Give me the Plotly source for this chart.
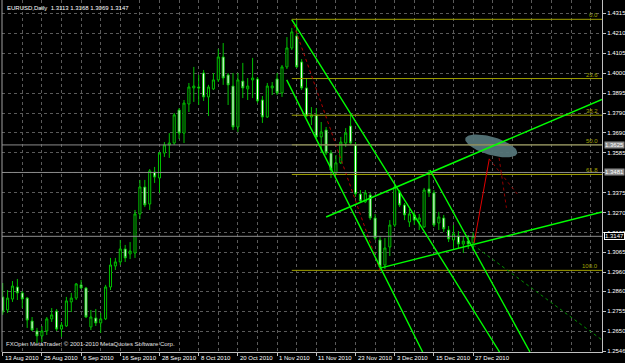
import numpy as np
import plotly.graph_objects as go

# ---------------- data (bar index 0 = 13 Aug 2010, daily bars) ----------------
bars = list(range(97))
opens = [1.2830,1.2762,1.2819,1.2882,1.2851,1.2824,1.2704,1.2652,1.2626,1.2652,
         1.2715,1.2756,1.2662,1.2678,1.2804,1.2824,1.2893,1.2877,1.2673,1.2720,
         1.2694,1.2715,1.2882,1.2992,1.3013,1.3081,1.3055,1.3060,1.3264,1.3405,
         1.3316,1.3483,1.3452,1.3583,1.3625,1.3635,1.3808,1.3687,1.3839,1.3923,
         1.3928,1.4001,1.3876,1.3918,1.3965,1.4085,1.3991,1.3933,1.3719,1.3959,
         1.3918,1.3965,1.3970,1.3860,1.3771,1.3923,1.3970,1.3897,1.4033,1.4132,
         1.4195,1.4059,1.3923,1.3771,1.3782,1.3667,1.3703,1.3583,1.3478,1.3531,
         1.3635,1.3724,1.3625,1.3368,1.3327,1.3363,1.3243,1.3128,1.2997,1.3091,
         1.3206,1.3379,1.3311,1.3222,1.3259,1.3222,1.3196,1.3395,1.3374,1.3217,
         1.3243,1.3180,1.3128,1.3149,1.3107,1.3122,1.3113]
highs = [1.2903,1.2866,1.2913,1.2924,1.2861,1.2830,1.2725,1.2668,1.2678,1.2725,
         1.2772,1.2767,1.2699,1.2830,1.2851,1.2903,1.2919,1.2882,1.2762,1.2767,
         1.2746,1.2893,1.3034,1.3034,1.3128,1.3102,1.3117,1.3285,1.3442,1.3442,
         1.3499,1.3510,1.3588,1.3640,1.3687,1.3792,1.3818,1.3860,1.3949,1.4033,
         1.3991,1.4017,1.3939,1.4001,1.4127,1.4158,1.4001,1.4001,1.4001,1.4054,
         1.3975,1.4080,1.3980,1.3881,1.3949,1.3954,1.4001,1.4043,1.4189,1.4237,
         1.4278,1.4074,1.3975,1.3823,1.3818,1.3745,1.3719,1.3598,1.3572,1.3667,
         1.3713,1.3782,1.3640,1.3389,1.3389,1.3374,1.3264,1.3149,1.3138,1.3232,
         1.3416,1.3389,1.3321,1.3290,1.3275,1.3264,1.3400,1.3494,1.3389,1.3275,
         1.3259,1.3201,1.3206,1.3175,1.3149,1.3154,1.3168]
lows = [1.2736,1.2746,1.2804,1.2814,1.2772,1.2668,1.2652,1.2589,1.2594,1.2631,
        1.2699,1.2652,1.2621,1.2673,1.2751,1.2814,1.2872,1.2720,1.2657,1.2678,
        1.2642,1.2709,1.2866,1.2971,1.2997,1.3013,1.3028,1.3034,1.3238,1.3300,
        1.3285,1.3426,1.3374,1.3562,1.3557,1.3625,1.3656,1.3635,1.3797,1.3850,
        1.3834,1.3855,1.3776,1.3912,1.3954,1.3939,1.3834,1.3703,1.3693,1.3870,
        1.3860,1.3870,1.3844,1.3740,1.3766,1.3886,1.3886,1.3876,1.4022,1.4121,
        1.4027,1.3912,1.3771,1.3729,1.3661,1.3583,1.3572,1.3452,1.3468,1.3525,
        1.3614,1.3625,1.3353,1.3321,1.3321,1.3232,1.3128,1.2971,1.2976,1.3044,
        1.3196,1.3300,1.3232,1.3196,1.3206,1.3180,1.3191,1.3353,1.3196,1.3180,
        1.3170,1.3117,1.3086,1.3086,1.3060,1.3081,1.3069]
closes = [1.2751,1.2824,1.2887,1.2851,1.2819,1.2709,1.2657,1.2626,1.2652,1.2715,
          1.2736,1.2662,1.2683,1.2809,1.2824,1.2898,1.2877,1.2725,1.2725,1.2694,
          1.2715,1.2882,1.2997,1.3013,1.3081,1.3034,1.3070,1.3264,1.3405,1.3311,
          1.3489,1.3457,1.3583,1.3625,1.3635,1.3782,1.3687,1.3844,1.3928,1.3933,
          1.3923,1.3876,1.3928,1.3965,1.4085,1.3975,1.3939,1.3719,1.3965,1.3923,
          1.3933,1.3975,1.3855,1.3771,1.3933,1.3933,1.3897,1.4033,1.4132,1.4216,
          1.4033,1.3923,1.3776,1.3782,1.3667,1.3693,1.3583,1.3494,1.3531,1.3640,
          1.3687,1.3635,1.3368,1.3332,1.3374,1.3243,1.3138,1.2987,1.3086,1.3206,
          1.3405,1.3311,1.3259,1.3264,1.3232,1.3243,1.3389,1.3374,1.3206,1.3248,
          1.3186,1.3133,1.3160,1.3107,1.3122,1.3107,1.3147]

date_pos = [0, 8, 16, 24, 32, 40, 48, 56, 64, 72, 80, 88, 96]
date_labels = ["13 Aug 2010", "25 Aug 2010", "6 Sep 2010", "16 Sep 2010", "28 Sep 2010",
               "8 Oct 2010", "20 Oct 2010", "1 Nov 2010", "11 Nov 2010", "23 Nov 2010",
               "3 Dec 2010", "15 Dec 2010", "27 Dec 2010"]
price_ticks = [1.4315, 1.4210, 1.4105, 1.4000, 1.3895, 1.3790, 1.3690, 1.3585, 1.3480,
               1.3375, 1.3270, 1.3165, 1.3065, 1.2960, 1.2860, 1.2755, 1.2650, 1.2546]
price_tick_text = ["1.4315", "1.4210", "1.4105", "1.4000", "1.3895", "1.3790", "1.3690",
                   "1.3585", "", "1.3375", "1.3270", "1.3165", "1.3065", "1.2960",
                   "1.2860", "1.2755", "1.2650", "1.2546"]

# horizontal price lines and their boxed labels
hlines = [1.3625, 1.3481]
bid_price = 1.3147

# Fibonacci retracement
fib_start_bar, fib_end_bar = 59, 77
fib_high, fib_low = 1.4282, 1.2969
fib_levels = [0.0, 23.6, 38.2, 50.0, 61.8, 100.0]

# hand-drawn trend lines: (bar, price) endpoints
down_lines = [((57.96, 1.3965), (85.7, 1.2542)),
              ((59.0, 1.4280), (101.4, 1.2542)),
              ((87.2, 1.3494), (107.6, 1.2542))]
up_lines = [((66.0, 1.3248), (122.3, 1.3863)),
            ((77.0, 1.2981), (122.3, 1.3274))]
proj_green = ((96.0, 1.3102), (122.3, 1.2605))
proj_red = ((96.2, 1.3112), (99.3, 1.3552))
red_dotted = [((99.3, 1.3552), (105.0, 1.3369)),
              ((101.3, 1.3557), (102.8, 1.3296))]
ellipse_center = (99.7, 1.3620)

# ---------------- geometry / style ----------------
W, H = 625, 363
ML, MR, MT, MB = 2, 23, 0, 11
XR = [-0.14, 122.3]
YR = [1.2542, 1.4383]
px_x = (XR[1] - XR[0]) / (W - ML - MR)
px_y = (YR[1] - YR[0]) / (H - MT - MB)

GREEN = "#00ff00"
CANDLE = "#00c000"
GRID = "#5a5a5a"
OLIVE = "#a0a000"
FONT = "Liberation Sans"

fig = go.Figure()

# ellipse (drawn in pixel space, converted to data units)
t = np.linspace(0, 2 * np.pi, 80)
a, b, ang = 27, 9, np.deg2rad(16)
ex = a * np.cos(t) * np.cos(ang) - b * np.sin(t) * np.sin(ang)
ey = a * np.cos(t) * np.sin(ang) + b * np.sin(t) * np.cos(ang)
fig.add_trace(go.Scatter(x=ellipse_center[0] + ex * px_x,
                         y=ellipse_center[1] - ey * px_y,
                         fill="toself", fillcolor="rgba(84,116,120,0.95)",
                         line=dict(width=0), mode="lines", hoverinfo="skip"))

# fibonacci lines
for lv in fib_levels:
    p = fib_high - lv / 100 * (fib_high - fib_low)
    fig.add_trace(go.Scatter(x=[fib_start_bar, XR[1]], y=[p, p], mode="lines",
                             line=dict(color=OLIVE, width=1), hoverinfo="skip"))
fig.add_trace(go.Scatter(x=[fib_start_bar, fib_end_bar], y=[fib_high, fib_low], mode="lines",
                         line=dict(color="#b00000", width=1, dash="dot"), hoverinfo="skip"))

# gray horizontal lines
for p in hlines + [bid_price]:
    fig.add_trace(go.Scatter(x=[XR[0], XR[1]], y=[p, p], mode="lines",
                             line=dict(color="#8c8c8c", width=1), hoverinfo="skip"))

# candles
fig.add_trace(go.Candlestick(x=bars, open=opens, high=highs, low=lows, close=closes,
                             increasing=dict(line=dict(color=CANDLE, width=1), fillcolor="#000000"),
                             decreasing=dict(line=dict(color=CANDLE, width=1), fillcolor="#ffffff"),
                             whiskerwidth=0, hoverinfo="skip"))

# trend lines
for (p0, p1) in down_lines + up_lines:
    fig.add_trace(go.Scatter(x=[p0[0], p1[0]], y=[p0[1], p1[1]], mode="lines",
                             line=dict(color=GREEN, width=1.4), hoverinfo="skip"))
fig.add_trace(go.Scatter(x=[proj_green[0][0], proj_green[1][0]], y=[proj_green[0][1], proj_green[1][1]],
                         mode="lines", line=dict(color="#009000", width=1, dash="dot"), hoverinfo="skip"))
for (p0, p1) in red_dotted:
    fig.add_trace(go.Scatter(x=[p0[0], p1[0]], y=[p0[1], p1[1]], mode="lines",
                             line=dict(color="#900000", width=1, dash="dot"), hoverinfo="skip"))
fig.add_trace(go.Scatter(x=[proj_red[0][0], proj_red[1][0]], y=[proj_red[0][1], proj_red[1][1]],
                         mode="lines", line=dict(color="#e00000", width=1), hoverinfo="skip"))

annotations = []
for pos, lab in zip(date_pos, date_labels):
    annotations.append(dict(x=pos, y=0, xref="x", yref="paper", text=lab, showarrow=False,
                            xanchor="left", yanchor="top", xshift=0, yshift=-1,
                            font=dict(family=FONT, size=6, color="#ffffff")))
for lv in fib_levels:
    p = fib_high - lv / 100 * (fib_high - fib_low)
    annotations.append(dict(x=1, y=p, xref="paper", yref="y", text=f"{lv:.1f}", showarrow=False,
                            xanchor="right", yanchor="bottom", xshift=-2, yshift=-1,
                            font=dict(family=FONT, size=6, color=OLIVE)))
for p in hlines:
    annotations.append(dict(x=1, y=p, xref="paper", yref="y", text=f"{p:.4f}", showarrow=False,
                            xanchor="left", yanchor="middle", xshift=2,
                            bgcolor="#8c8c8c", borderpad=0,
                            font=dict(family=FONT, size=6, color="#ffffff")))
annotations.append(dict(x=1, y=bid_price, xref="paper", yref="y", text=f"{bid_price:.4f}", showarrow=False,
                        xanchor="left", yanchor="middle", xshift=2,
                        bgcolor="#000000", bordercolor="#ffffff", borderwidth=1, borderpad=0,
                        font=dict(family=FONT, size=6, color="#ffffff")))
annotations.append(dict(x=0, y=1, xref="paper", yref="paper", xanchor="left", yanchor="top",
                        xshift=3, yshift=-3, showarrow=False,
                        text=f"EURUSD,Daily  {opens[-1]:.4f} {highs[-1]:.4f} {lows[-1]:.4f} {closes[-1]:.4f}",
                        font=dict(family=FONT, size=6, color="#ffffff")))
annotations.append(dict(x=0, y=0, xref="paper", yref="paper", xanchor="left", yanchor="bottom",
                        xshift=2, yshift=3, showarrow=False,
                        text="FXOpen MetaTrader, © 2001-2010 MetaQuotes Software Corp.",
                        font=dict(family=FONT, size=6, color="#e0e0e0")))

fig.update_layout(
    width=W, height=H, margin=dict(l=ML, r=MR, t=MT, b=MB),
    paper_bgcolor="#000000", plot_bgcolor="#000000", showlegend=False,
    boxgap=0.4,
    annotations=annotations,
    shapes=[dict(type="line", xref="paper", yref="paper", x0=0, x1=0, y0=0, y1=1,
                 line=dict(color="#a0a0a0", width=1))],
    xaxis=dict(range=XR, rangeslider=dict(visible=False), showticklabels=False,
               tickvals=date_pos, ticks="outside", ticklen=3, tickcolor="#c0c0c0",
               showgrid=True, gridcolor=GRID, griddash="3px,3px", gridwidth=1,
               minor=dict(dtick=4, tick0=0, showgrid=True, gridcolor=GRID, griddash="3px,3px", ticks=""),
               showline=True, linecolor="#c0c0c0", linewidth=1, zeroline=False),
    yaxis=dict(range=YR, side="right", tickvals=price_ticks, ticktext=price_tick_text,
               tickfont=dict(family=FONT, size=6, color="#ffffff"),
               ticks="outside", ticklen=3, tickcolor="#c0c0c0",
               showgrid=True, gridcolor=GRID, griddash="3px,3px", gridwidth=1,
               showline=True, linecolor="#c0c0c0", linewidth=1, zeroline=False),
)

fig.write_html("out.html")
